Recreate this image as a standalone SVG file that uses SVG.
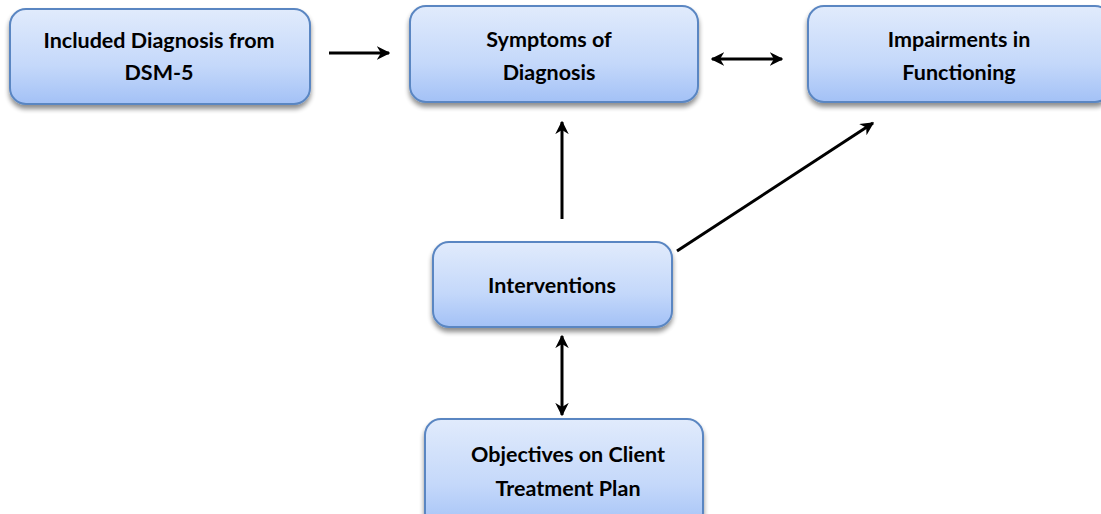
<svg xmlns="http://www.w3.org/2000/svg" width="1101" height="514" viewBox="0 0 1101 514">
<style>
.box{fill:url(#g);stroke:#5a86c2;stroke-width:2;filter:url(#sh)}
.t{font-family:Lato,"Open Sans",sans-serif;font-weight:bold;font-size:21.5px;fill:#000;text-anchor:middle}
.c{stroke:#000;stroke-width:3;fill:none}
</style>
<defs>
<linearGradient id="g" x1="0" y1="0" x2="0" y2="1">
<stop offset="0" stop-color="#e1ebfc"/>
<stop offset="0.6" stop-color="#c4d8fa"/>
<stop offset="1" stop-color="#a3c1f6"/>
</linearGradient>
<filter id="sh" x="-10%" y="-10%" width="120%" height="130%">
<feGaussianBlur in="SourceAlpha" stdDeviation="2.5"/>
<feOffset dx="0" dy="4" result="b"/>
<feComponentTransfer><feFuncA type="linear" slope="0.45"/></feComponentTransfer>
<feMerge><feMergeNode/><feMergeNode in="SourceGraphic"/></feMerge>
</filter>
<marker id="ah" viewBox="0 0 10 10" refX="9" refY="5" markerWidth="4.5" markerHeight="4.5" orient="auto-start-reverse" markerUnits="strokeWidth">
<path d="M0,0 L10,5 L0,10 L3,5 Z" fill="#000"/>
</marker>
</defs>
<g id="n1"><rect class="box" x="10" y="9" width="300" height="95" rx="16"/>
<text class="t" x="159" y="48">Included Diagnosis from</text><text class="t" x="159" y="80">DSM-5</text></g>
<g id="n2"><rect class="box" x="410" y="6" width="288" height="96" rx="16"/>
<text class="t" x="549" y="47">Symptoms of</text><text class="t" x="549" y="80">Diagnosis</text></g>
<g id="n3"><rect class="box" x="808" y="6" width="303" height="96" rx="16"/>
<text class="t" x="959" y="47">Impairments in</text><text class="t" x="959" y="80">Functioning</text></g>
<g id="n4"><rect class="box" x="433" y="242" width="239" height="85" rx="16"/>
<text class="t" x="552" y="293">Interventions</text></g>
<g id="n5"><rect class="box" x="425" y="419" width="278" height="110" rx="16"/>
<text class="t" x="568" y="462">Objectives on Client</text><text class="t" x="568" y="496">Treatment Plan</text></g>
<g id="connectors">
<line class="c" x1="329" y1="53" x2="389" y2="53" marker-end="url(#ah)"/>
<line class="c" x1="712" y1="59" x2="782" y2="59" marker-start="url(#ah)" marker-end="url(#ah)"/>
<line class="c" x1="562" y1="219" x2="562" y2="122" marker-end="url(#ah)"/>
<line class="c" x1="677" y1="251" x2="873" y2="123" marker-end="url(#ah)"/>
<line class="c" x1="562" y1="336" x2="562" y2="415" marker-start="url(#ah)" marker-end="url(#ah)"/>
</g>
</svg>
